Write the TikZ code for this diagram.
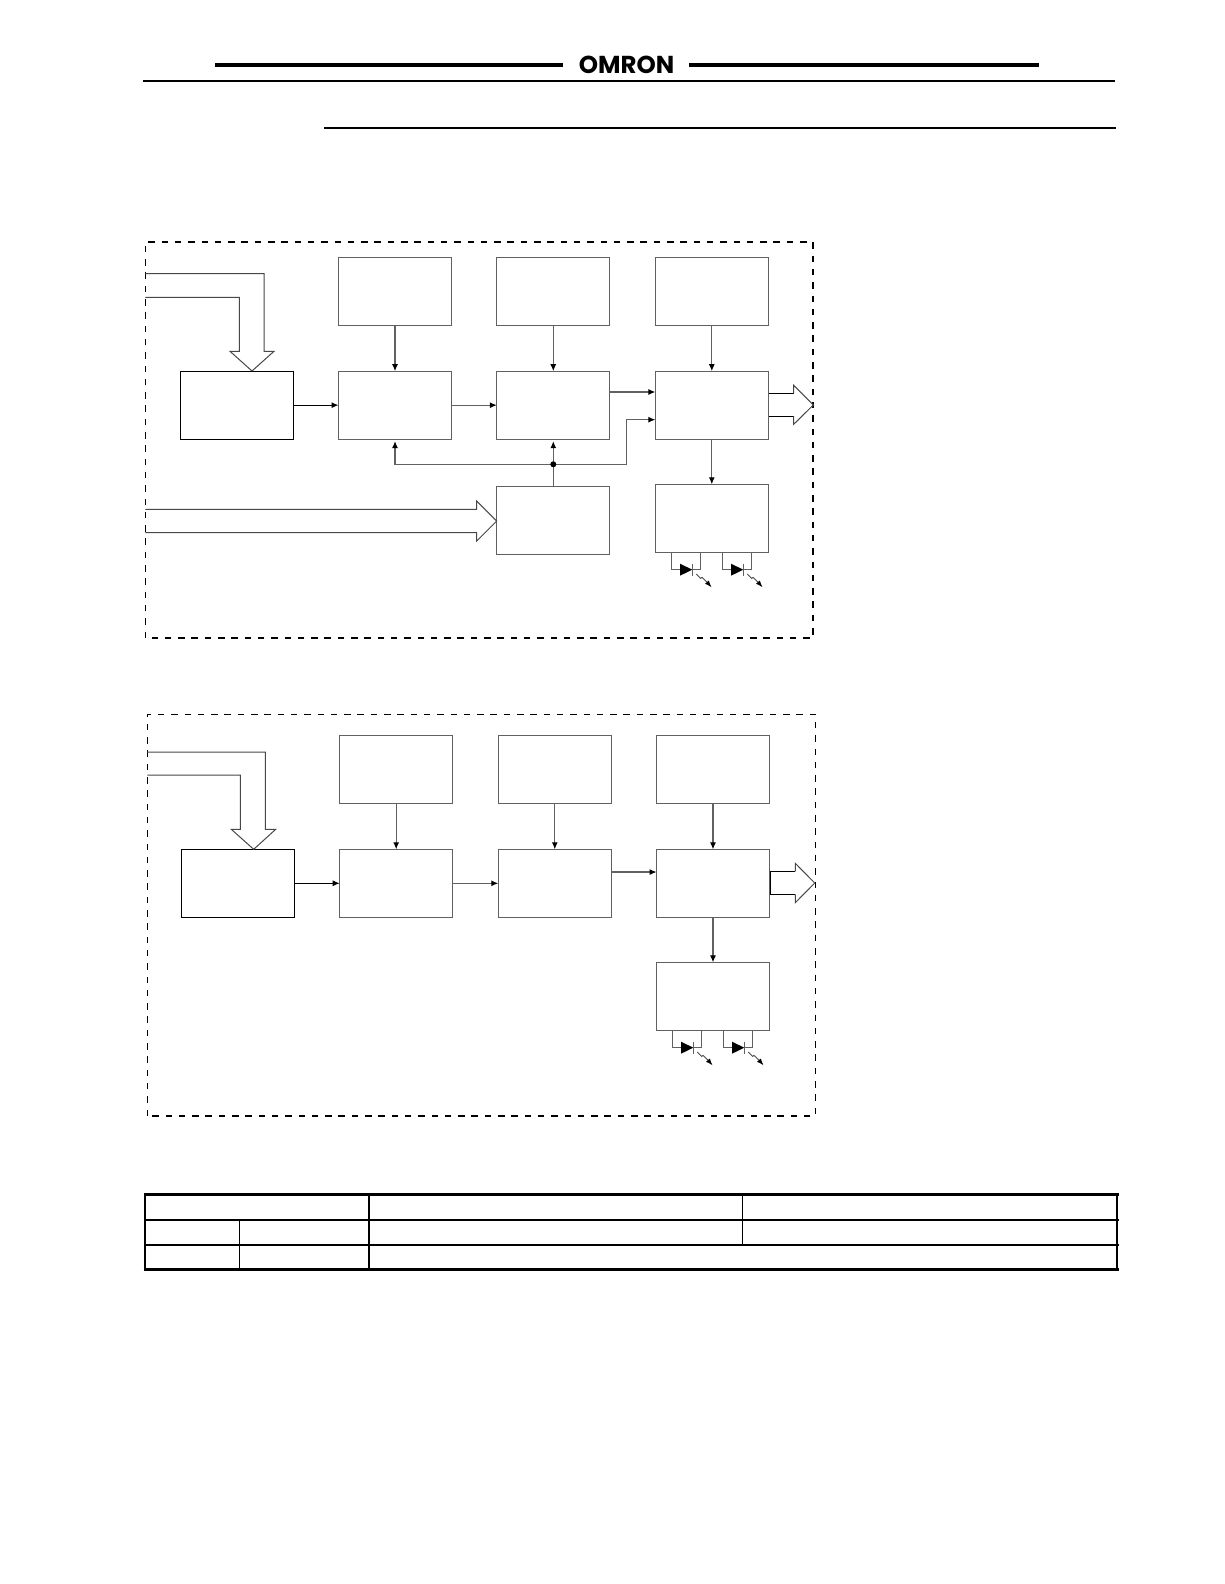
\documentclass[tikz,border=0pt]{standalone}
\usepackage{fontspec}
\newfontfamily\logofont{Poppins}
\usetikzlibrary{arrows.meta}
\tikzset{
  block/.style={draw=black!62,line width=1.1pt,minimum width=113pt,minimum height=68pt,inner sep=0pt,outer sep=0pt},
  blockdark/.style={block,draw=black,line width=1.1pt},
  conn/.style={draw=black!62,line width=1.1pt,-{Latex[length=7pt,width=6pt,black]}},
  gapconn/.style={conn,shorten >=2pt},
  thinl/.style={draw=black!62,line width=1pt,line join=miter},
  bigarrow/.style={draw=black!72,line width=1pt,line join=miter},
  frameline/.style={draw=black,line width=1.2pt,dash pattern=on 6.5pt off 6.8pt},
  headthick/.style={draw=black,line width=4pt},
  headthin/.style={draw=black,line width=2pt},
  tabthick/.style={draw=black,line width=3.2pt},
  tabmid/.style={draw=black,line width=2pt},
  tabthin/.style={draw=black,line width=1pt},
  dot/.style={circle,fill=black,inner sep=0pt,minimum size=6pt}
}
\newcommand{\ledunit}[2]{%
  \begin{scope}[shift={(#1,#2)}]
    \draw[thinl] (0,-17.4) -- (0,0) -- (9,0);
    \fill[black] (8.7,-6) -- (21,0) -- (8.7,6) -- cycle;
    \draw[thinl] (21,-6) -- (21,6);
    \draw[thinl] (21,0) -- (29.2,0) -- (29.2,-17.4);
    \draw[draw=black!70,line width=0.9pt,-{Latex[length=7pt,width=5pt,black]}]
      (25,4.3) -- (29.3,8.7) -- (30.7,7.7) -- (35.3,12) -- (40.3,17.7);
  \end{scope}}
\begin{document}
\begin{tikzpicture}[x=1pt,y=-1pt]
\useasboundingbox (0,0) rectangle (1224,1584);
% header
\draw[headthick] (214.8,65) -- (563,65);
\draw[headthick] (689,65) -- (1039,65);
\draw[headthin] (143.4,80.7) -- (1114.7,80.7);
\draw[headthin] (324,128) -- (1116,128);
\node[inner sep=0pt] (logo) at (626.5,65.2) {\logofont\bfseries\fontsize{24.5pt}{24.5pt}\selectfont OMRON};

% ---------- diagram 1
\draw[frameline] (145.3,638) -- (145.3,242) -- (813,242) -- (813,638) -- cycle;
\node[block] (a1) at (395,291.5) {};
\node[block] (b1) at (553.3,291.5) {};
\node[block] (c1) at (711.8,291.5) {};
\node[blockdark] (d1) at (236.8,405.15) {};
\node[block] (e1) at (395,405.15) {};
\node[block] (f1) at (553.3,405.15) {};
\node[block] (g1) at (711.8,405.15) {};
\node[block] (h1) at (553.3,520.3) {};
\node[block] (i1) at (711.8,518.3) {};
\draw[conn] (a1.south) -- (e1.north);
\draw[conn] (b1.south) -- (f1.north);
\draw[conn] (c1.south) -- (g1.north);
\draw[conn,draw=black] (d1.east) -- (e1.west);
\draw[conn] (e1.east) -- (f1.west);
\coordinate (fo1) at (f1.east |- 0,392);
\coordinate (gi1) at (g1.west |- 0,392);
\draw[conn] (fo1) -- (gi1);
\coordinate (jc1) at (553.3,464.3);
\draw[gapconn] (h1.north) -- (f1.south);
\draw[gapconn] (jc1) -| (e1.south);
\coordinate (k1) at (626.7,464.3);
\coordinate (m1) at (626.7,419.7);
\coordinate (gj1) at (g1.west |- m1);
\draw[conn] (jc1) -- (k1) -- (m1) -- (gj1);
\node[dot] (j1) at (jc1) {};
\draw[conn] (g1.south) -- (i1.north);
% input block arrow
\draw[bigarrow] (145.3,273.7) -- (264,273.7) -- (264,351.3) -- (274,351.3) -- (252,371) -- (230,351.3) -- (239.3,351.3) -- (239.3,297.3) -- (145.3,297.3);
% long block arrow
\draw[bigarrow] (145.3,509.3) -- (476.7,509.3) -- (476.7,501) -- (496.7,521) -- (476.7,541) -- (476.7,532.7) -- (145.3,532.7);
% output block arrow
\draw[bigarrow,draw=black] (768.8,393.3) -- (793.7,393.3);
\draw[bigarrow,draw=black] (793.7,416.3) -- (768.8,416.3);
\draw[bigarrow] (793.7,393.3) -- (793.7,385.3) -- (813.3,405) -- (793.7,424.3) -- (793.7,416.3);
\ledunit{671.3}{569.7}
\ledunit{722.3}{569.7}

% ---------- diagram 2
\draw[frameline] (147.3,1116) -- (147.3,714.3) -- (815.3,714.3) -- (815.3,1116) -- cycle;
\node[block] (a2) at (396.2,769.7) {};
\node[block] (b2) at (554.8,769.7) {};
\node[block] (c2) at (713,769.7) {};
\node[blockdark] (d2) at (237.8,883.3) {};
\node[block] (e2) at (396.2,883.3) {};
\node[block] (f2) at (554.8,883.3) {};
\node[block] (g2) at (713,883.3) {};
\node[block] (i2) at (713,996.3) {};
\draw[conn] (a2.south) -- (e2.north);
\draw[conn] (b2.south) -- (f2.north);
\draw[conn] (c2.south) -- (g2.north);
\draw[conn,draw=black] (d2.east) -- (e2.west);
\draw[conn] (e2.east) -- (f2.west);
\coordinate (fo2) at (f2.east |- 0,872);
\coordinate (gi2) at (g2.west |- 0,872);
\draw[conn] (fo2) -- (gi2);
\draw[conn] (g2.south) -- (i2.north);
\draw[bigarrow] (147.3,752) -- (265.3,752) -- (265.3,829.3) -- (275.7,829.3) -- (253.7,849.3) -- (231.3,829.3) -- (240.3,829.3) -- (240.3,775) -- (147.3,775);
\draw[bigarrow,draw=black] (770.3,871.3) -- (795.3,871.3);
\draw[bigarrow,draw=black] (795.3,894.3) -- (770.3,894.3);
\draw[bigarrow,draw=black] (770.3,871.3) -- (770.3,894.3);
\draw[bigarrow] (795.3,871.3) -- (795.3,863.3) -- (814.7,883) -- (795.3,902.7) -- (795.3,894.3);
\ledunit{672.3}{1047.7}
\ledunit{723.3}{1047.7}

% ---------- table
\draw[tabthick] (143.5,1194.3) -- (1119,1194.3);
\draw[tabthick] (143.5,1269.3) -- (1119,1269.3);
\draw[tabmid] (145,1194.3) -- (145,1269.3);
\draw[tabmid] (1117.3,1194.3) -- (1117.3,1269.3);
\draw[tabmid] (369,1194.3) -- (369,1269.3);
\draw[tabmid] (145,1219.7) -- (1119,1219.7);
\draw[tabmid] (145,1244.7) -- (1119,1244.7);
\draw[tabthin] (239.3,1219.7) -- (239.3,1269.3);
\draw[tabthin] (742.3,1194.3) -- (742.3,1244.7);
\end{tikzpicture}
\end{document}
